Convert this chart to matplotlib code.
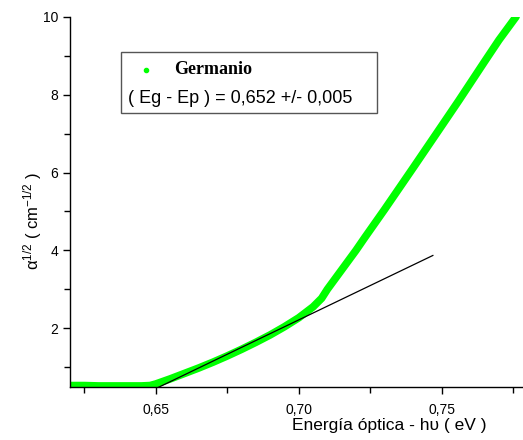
import matplotlib
matplotlib.use("Agg")
import matplotlib.pyplot as plt
from matplotlib.patches import Rectangle
from matplotlib.ticker import MultipleLocator, FuncFormatter

plt.rcParams["font.family"] = ["Liberation Sans", "DejaVu Sans"]
plt.rcParams["mathtext.fontset"] = "custom"
plt.rcParams["mathtext.rm"] = "Liberation Sans"
plt.rcParams["mathtext.it"] = "Liberation Sans:italic"

# sqrt(alpha) vs photon energy
energy = [0.620, 0.625, 0.630, 0.635, 0.640, 0.645, 0.648, 0.650, 0.655, 0.660,
          0.665, 0.670, 0.675, 0.680, 0.685, 0.690, 0.695, 0.700, 0.705, 0.708,
          0.710, 0.715, 0.720, 0.723, 0.730, 0.740, 0.750, 0.756, 0.765, 0.770, 0.776]
sqrt_alpha = [0.53, 0.53, 0.52, 0.52, 0.52, 0.52, 0.53, 0.57, 0.70, 0.84,
              0.98, 1.13, 1.29, 1.46, 1.64, 1.83, 2.04, 2.27, 2.55, 2.77,
              3.00, 3.50, 4.00, 4.32, 5.05, 6.12, 7.20, 7.85, 8.85, 9.40, 10.0]

# linear fit drawn over the edge
fit_x = [0.6372, 0.7469]
fit_y = [0.0, 3.87]

label = "Germanio"
note = "( Eg - Ep ) = 0,652 +/- 0,005"

fig = plt.figure(figsize=(5.23, 4.40), dpi=100)
ax = fig.add_axes([0.1338, 0.1211, 0.8639, 0.8409])

green = "#00ff00"
ax.plot(energy, sqrt_alpha, "-", color=green, lw=5.5, solid_capstyle="round",
        solid_joinstyle="round")
ax.plot(fit_x, fit_y, color="black", lw=0.9)

ax.set_xlim(0.620, 0.778)
ax.set_ylim(0.5, 10)
for s in ("top", "right"):
    ax.spines[s].set_visible(False)
for s in ("left", "bottom"):
    ax.spines[s].set_linewidth(1.0)

ax.xaxis.set_major_locator(MultipleLocator(0.05))
ax.xaxis.set_minor_locator(MultipleLocator(0.025))
ax.yaxis.set_major_locator(MultipleLocator(2))
ax.yaxis.set_minor_locator(MultipleLocator(1))
ax.xaxis.set_major_formatter(FuncFormatter(lambda v, p: f"{v:.2f}".replace(".", ",")))
ax.yaxis.set_major_formatter(FuncFormatter(lambda v, p: f"{v:.0f}"))
ax.tick_params(which="major", direction="out", length=5, width=1, labelsize=10)
ax.tick_params(axis="x", which="major", pad=7)
ax.tick_params(which="minor", direction="out", length=4, width=1)

fig.text(0.745, 0.034, "Energía óptica - hυ ( eV )", fontsize=12.5, ha="center", va="center")
fig.text(0.062, 0.497, r"α$^{1/2}$ ( cm$^{-1/2}$ )", fontsize=12, rotation=90,
         ha="center", va="center")

# legend box
ax.add_patch(Rectangle((0.1129, 0.7397), 0.5666, 0.1649, transform=ax.transAxes,
                       fill=False, edgecolor="#555555", lw=1.0))
ax.plot([0.168], [0.856], "o", color=green, ms=3, transform=ax.transAxes)
ax.text(0.230, 0.856, label, transform=ax.transAxes, fontsize=13, fontweight="bold",
        family="Liberation Serif", va="center")
ax.text(0.128, 0.778, note, transform=ax.transAxes, fontsize=13, va="center")

fig.savefig("out.png", dpi=100)
